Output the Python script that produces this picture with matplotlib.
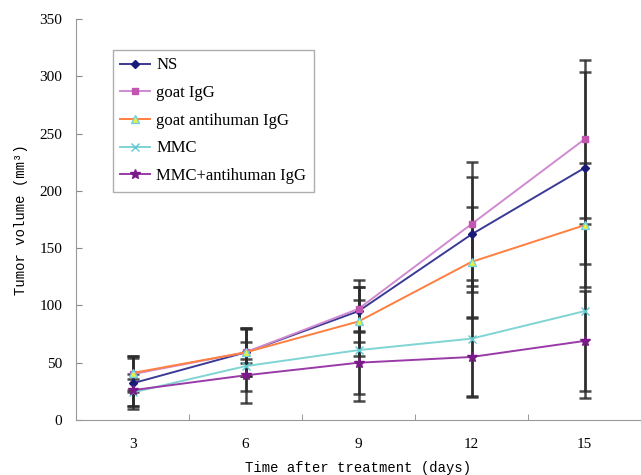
import matplotlib
matplotlib.use('Agg')
import matplotlib.pyplot as plt
import numpy as np

days = ['3', '6', '9', '12', '15']

ns = [32, 59, 95, 162, 220]
ns_err = [22, 21, 27, 50, 84]
goat_igg = [40, 59, 97, 171, 245]
goat_igg_err = [16, 21, 19, 54, 69]
goat_anti = [41, 59, 86, 138, 170]
goat_anti_err = [15, 9, 30, 48, 54]
mmc = [24, 47, 61, 71, 95]
mmc_err = [12, 32, 44, 51, 76]
mmc_anti = [26, 39, 50, 55, 69]
mmc_anti_err = [14, 14, 27, 34, 44]

series = [
    ('NS', ns, ns_err, '#3a3a96', 'D', '#1a1a78', '#1a1a78', 4),
    ('goat IgG', goat_igg, goat_igg_err, '#d08ad0', 's', '#c455b0', '#c455b0', 5),
    ('goat antihuman IgG', goat_anti, goat_anti_err, '#ff7f3f', '^', '#e8f040', '#70d0e0', 6),
    ('MMC', mmc, mmc_err, '#7fd4d4', 'x', '#60c8d0', '#60c8d0', 6),
    ('MMC+antihuman IgG', mmc_anti, mmc_anti_err, '#9a3aa8', '*', '#7a1a88', '#7a1a88', 7),
]

plt.rcParams['font.family'] = ['Liberation Serif', 'DejaVu Serif']

fig = plt.figure(figsize=(6.41, 4.75), dpi=100)
ax = fig.add_axes([0.1186, 0.1158, 0.8814, 0.8442])

x = np.arange(len(days)) + 0.5

# error bars first, underneath the lines
for name, vals, err, lc, mk, mfc, mec, ms in series:
    ax.errorbar(x, vals, yerr=err, fmt='none', ecolor='#2a2a2a', elinewidth=1.8,
                capsize=4, capthick=1.8, alpha=0.85, zorder=2)

for name, vals, err, lc, mk, mfc, mec, ms in series:
    ax.plot(x, vals, color=lc, linewidth=1.4, marker=mk, markersize=ms,
            markerfacecolor=mfc, markeredgecolor=mec, label=name, zorder=3)

ax.set_xlim(0, len(days))
ax.set_ylim(0, 350)
ax.set_yticks(range(0, 351, 50))
ax.set_xticks(x)
ax.set_xticklabels(days)
ax.set_xticks(np.arange(1, len(days)), minor=True)
ax.tick_params(axis='x', which='major', length=0, pad=13, labelsize=11)
ax.tick_params(axis='x', which='minor', direction='in', length=4, color='#888888')
ax.tick_params(axis='y', direction='in', length=4, color='#888888', labelsize=11, pad=10)

for s in ['top', 'right']:
    ax.spines[s].set_visible(False)
for s in ['left', 'bottom']:
    ax.spines[s].set_color('#999999')

ax.set_xlabel('Time after treatment (days)', family=['Liberation Mono'], fontsize=10, labelpad=7)
ax.set_ylabel('Tumor volume (mm³)', family=['Liberation Mono'], fontsize=10, labelpad=8)

leg = ax.legend(loc='upper left', bbox_to_anchor=(0.065, 0.923), fontsize=12,
                fancybox=False, edgecolor='#999999', handlelength=1.8,
                labelspacing=0.7, borderpad=0.45, handletextpad=0.35,
                borderaxespad=0)
leg.get_frame().set_linewidth(1.0)

fig.savefig('out.png', dpi=100)
